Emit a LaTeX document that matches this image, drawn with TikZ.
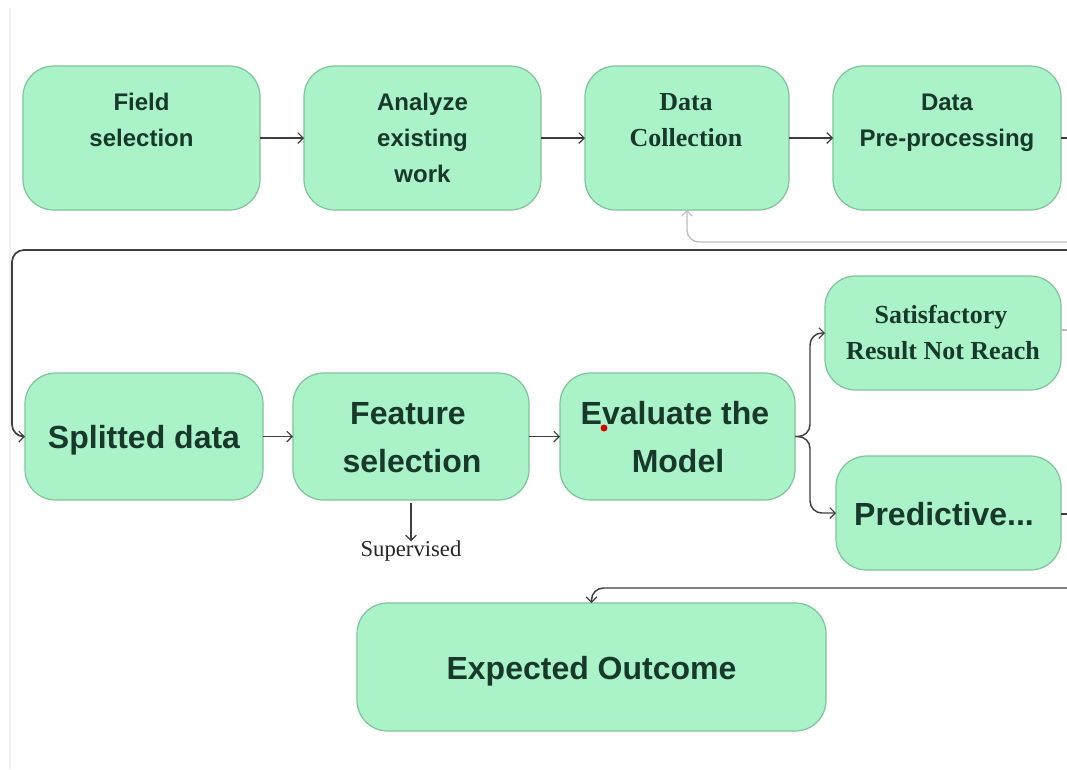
\documentclass[tikz,border=0pt]{standalone}
\usepackage{fontspec}
\setmainfont{Liberation Serif}
\newfontfamily\boxsans{Liberation Sans}
\usetikzlibrary{arrows.meta}
\definecolor{boxfill}{HTML}{AAF2C8}
\definecolor{boxline}{HTML}{7EC499}
\definecolor{ink}{HTML}{17382A}
\definecolor{wire}{HTML}{3E3E3E}
\definecolor{softwire}{HTML}{BDBDBD}
\tikzset{
  box/.style={draw=boxline, fill=boxfill, line width=0.9pt, rounded corners=23pt,
    inner sep=0pt, outer sep=0pt},
  lbl/.style={inner sep=0pt, text=ink, text height=0.72em, text depth=0pt, anchor=center},
  small/.style={lbl, yshift=-3pt, font=\boxsans\bfseries\fontsize{18pt}{20pt}\selectfont},
  big/.style={lbl, yshift=-5pt, font=\boxsans\bfseries\fontsize{24pt}{26pt}\selectfont},
  serifb/.style={lbl, yshift=-3pt, font=\bfseries\fontsize{19.5pt}{21pt}\selectfont},
  tip/.style={-{Straight Barb[length=4pt,width=8pt,line width=0.9pt]}},
  conn/.style={draw=wire, line width=1.1pt, tip},
  link/.style={draw=wire, line width=1.1pt},
}
\begin{document}
\begin{tikzpicture}[x=0.75pt,y=-0.75pt]
\useasboundingbox (0,0) rectangle (1067,769);
\fill[white] (0,0) rectangle (1067,769);
% faint page edge on the left
\draw[draw=black!6, line width=1pt] (10,8) -- (10,769);

% ---- top row
\node[box, minimum width=177.75pt, minimum height=108pt] (field) at (141.5,138) {};
\node[small] (field1) at (141.5,102) {Field};
\node[small] (field2) at (141.5,138) {selection};

\node[box, minimum width=177.75pt, minimum height=108pt] (analyze) at (422.5,138) {};
\node[small] (analyze1) at (422.5,102) {Analyze};
\node[small] (analyze2) at (422.5,138) {existing};
\node[small] (analyze3) at (422.5,174) {work};

\node[box, minimum width=153pt, minimum height=108pt] (collect) at (687,138) {};
\node[serifb] (collect1) at (686,102) {Data};
\node[serifb] (collect2) at (686,138) {Collection};

\node[box, minimum width=171pt, minimum height=108pt] (prep) at (947,138) {};
\node[small] (prep1) at (947,102) {Data};
\node[small] (prep2) at (947,138) {Pre-processing};

% ---- middle row
\node[box, minimum width=178.5pt, minimum height=95.25pt] (split) at (144,436.5) {};
\node[big] (split1) at (144,437) {Splitted data};

\node[box, minimum width=177pt, minimum height=95.25pt] (feat) at (411,436.5) {};
\node[big] (feat1) at (408,413) {Feature};
\node[big] (feat2) at (412,461) {selection};

\node[box, minimum width=176.25pt, minimum height=95.25pt] (eval) at (677.5,436.5) {};
\node[big] (eval1) at (675,413) {Evaluate the};
\node[big] (eval2) at (678,461) {Model};
\fill[red!85!black] (604,428) circle (2.6pt);

\node[box, minimum width=177pt, minimum height=85.5pt] (sat) at (943,333) {};
\node[serifb] (sat1) at (941,315) {Satisfactory};
\node[serifb] (sat2) at (943,351) {Result Not Reach};

\node[box, minimum width=168.75pt, minimum height=85.5pt] (pred) at (948.5,513) {};
\node[big] (pred1) at (944,514) {Predictive...};

\node[inner sep=0pt, text=black!85, font=\fontsize{17pt}{19pt}\selectfont,
      text height=0.7em, text depth=0.2em] (sup) at (411,553) {Supervised};

% ---- bottom
\node[box, minimum width=351.75pt, minimum height=96pt] (outcome) at (591.5,667) {};
\node[big] (outcome1) at (591.5,668) {Expected Outcome};

% ---- connectors along the rows
\draw[conn] (field.east) -- (analyze.west);
\draw[conn] (analyze.east) -- (collect.west);
\draw[conn] (collect.east) -- (prep.west);
\draw[conn] (split.east) -- (feat.west);
\draw[conn] (feat.east) -- (eval.west);
\draw[conn, shorten <=2pt, shorten >=4pt] (feat.south) -- (feat.south |- sup.north);

% split from the evaluation
\coordinate (fork) at (810,436.5);
\draw[conn, rounded corners=9pt] (eval.east) -- (fork) |- (sat.west);
\draw[conn, rounded corners=9pt] (eval.east) -- (fork) |- (pred.west);

% stubs leaving to the right
\coordinate (outA) at (1067,138);
\coordinate (outS) at (1067,330);
\coordinate (outP) at (1067,514);
\draw[link] (prep.east) -- (outA);
\draw[draw=softwire, line width=0.8pt] (sat.east |- outS) -- (outS);
\draw[link] (pred.east |- outP) -- (outP);

% long return lines
\coordinate (backR) at (1067,250);
\coordinate (backL) at (12,250);
\draw[conn, line width=1.3pt, rounded corners=9pt] (backR) -- (backL) |- (split.west);

\coordinate (loopR) at (1067,242);
\draw[draw=softwire, line width=1pt, tip, rounded corners=9pt] (loopR) -| (collect.south);

\coordinate (downR) at (1067,588);
\draw[conn, rounded corners=9pt] (downR) -| (outcome.north);
\end{tikzpicture}
\end{document}
